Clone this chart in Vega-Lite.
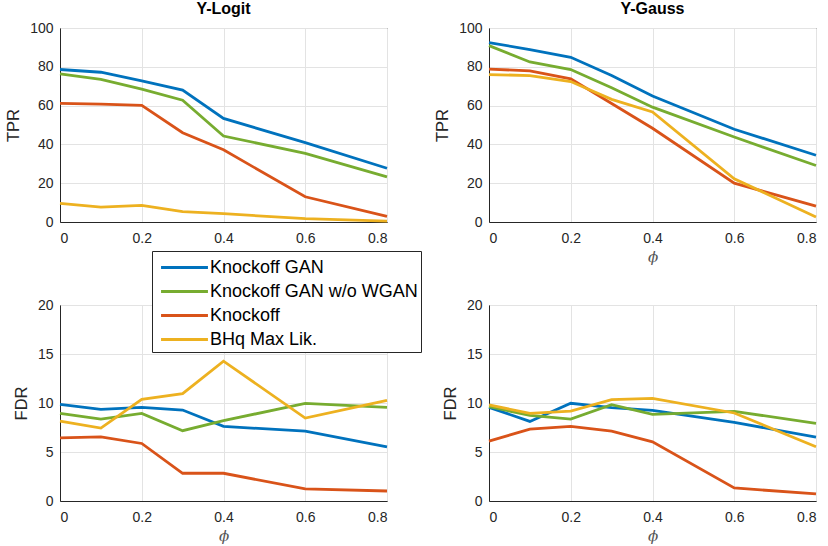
{
  "$schema": "https://vega.github.io/schema/vega-lite/v6.json",
  "background": "white",
  "padding": {"left": 5, "top": 0, "right": 5, "bottom": 0},
  "data": {"values": [
    {"p":"LT","m":"Knockoff GAN","phi":0,"v":78.6},{"p":"LT","m":"Knockoff GAN","phi":0.1,"v":77.2},{"p":"LT","m":"Knockoff GAN","phi":0.2,"v":72.8},{"p":"LT","m":"Knockoff GAN","phi":0.3,"v":68.0},{"p":"LT","m":"Knockoff GAN","phi":0.4,"v":53.4},{"p":"LT","m":"Knockoff GAN","phi":0.6,"v":40.9},{"p":"LT","m":"Knockoff GAN","phi":0.8,"v":27.7},
    {"p":"LT","m":"Knockoff GAN w/o WGAN","phi":0,"v":76.4},{"p":"LT","m":"Knockoff GAN w/o WGAN","phi":0.1,"v":73.5},{"p":"LT","m":"Knockoff GAN w/o WGAN","phi":0.2,"v":68.5},{"p":"LT","m":"Knockoff GAN w/o WGAN","phi":0.3,"v":62.8},{"p":"LT","m":"Knockoff GAN w/o WGAN","phi":0.4,"v":44.3},{"p":"LT","m":"Knockoff GAN w/o WGAN","phi":0.6,"v":35.4},{"p":"LT","m":"Knockoff GAN w/o WGAN","phi":0.8,"v":23.3},
    {"p":"LT","m":"Knockoff","phi":0,"v":61.1},{"p":"LT","m":"Knockoff","phi":0.1,"v":60.8},{"p":"LT","m":"Knockoff","phi":0.2,"v":60.1},{"p":"LT","m":"Knockoff","phi":0.3,"v":46.0},{"p":"LT","m":"Knockoff","phi":0.4,"v":37.2},{"p":"LT","m":"Knockoff","phi":0.6,"v":13.0},{"p":"LT","m":"Knockoff","phi":0.8,"v":2.9},
    {"p":"LT","m":"BHq Max Lik.","phi":0,"v":9.6},{"p":"LT","m":"BHq Max Lik.","phi":0.1,"v":7.7},{"p":"LT","m":"BHq Max Lik.","phi":0.2,"v":8.6},{"p":"LT","m":"BHq Max Lik.","phi":0.3,"v":5.3},{"p":"LT","m":"BHq Max Lik.","phi":0.4,"v":4.3},{"p":"LT","m":"BHq Max Lik.","phi":0.6,"v":1.7},{"p":"LT","m":"BHq Max Lik.","phi":0.8,"v":0.5},

    {"p":"GT","m":"Knockoff GAN","phi":0,"v":92.5},{"p":"GT","m":"Knockoff GAN","phi":0.1,"v":88.9},{"p":"GT","m":"Knockoff GAN","phi":0.2,"v":84.9},{"p":"GT","m":"Knockoff GAN","phi":0.3,"v":75.5},{"p":"GT","m":"Knockoff GAN","phi":0.4,"v":64.9},{"p":"GT","m":"Knockoff GAN","phi":0.6,"v":47.8},{"p":"GT","m":"Knockoff GAN","phi":0.8,"v":34.4},
    {"p":"GT","m":"Knockoff GAN w/o WGAN","phi":0,"v":90.9},{"p":"GT","m":"Knockoff GAN w/o WGAN","phi":0.1,"v":82.5},{"p":"GT","m":"Knockoff GAN w/o WGAN","phi":0.2,"v":78.6},{"p":"GT","m":"Knockoff GAN w/o WGAN","phi":0.3,"v":69.2},{"p":"GT","m":"Knockoff GAN w/o WGAN","phi":0.4,"v":59.2},{"p":"GT","m":"Knockoff GAN w/o WGAN","phi":0.6,"v":43.8},{"p":"GT","m":"Knockoff GAN w/o WGAN","phi":0.8,"v":29.1},
    {"p":"GT","m":"Knockoff","phi":0,"v":78.8},{"p":"GT","m":"Knockoff","phi":0.1,"v":77.9},{"p":"GT","m":"Knockoff","phi":0.2,"v":73.8},{"p":"GT","m":"Knockoff","phi":0.3,"v":61.1},{"p":"GT","m":"Knockoff","phi":0.4,"v":48.3},{"p":"GT","m":"Knockoff","phi":0.6,"v":20.0},{"p":"GT","m":"Knockoff","phi":0.8,"v":8.2},
    {"p":"GT","m":"BHq Max Lik.","phi":0,"v":76.0},{"p":"GT","m":"BHq Max Lik.","phi":0.1,"v":75.5},{"p":"GT","m":"BHq Max Lik.","phi":0.2,"v":72.4},{"p":"GT","m":"BHq Max Lik.","phi":0.3,"v":63.2},{"p":"GT","m":"BHq Max Lik.","phi":0.4,"v":56.7},{"p":"GT","m":"BHq Max Lik.","phi":0.6,"v":22.3},{"p":"GT","m":"BHq Max Lik.","phi":0.8,"v":2.6},

    {"p":"LF","m":"Knockoff GAN","phi":0,"v":9.86},{"p":"LF","m":"Knockoff GAN","phi":0.1,"v":9.35},{"p":"LF","m":"Knockoff GAN","phi":0.2,"v":9.56},{"p":"LF","m":"Knockoff GAN","phi":0.3,"v":9.28},{"p":"LF","m":"Knockoff GAN","phi":0.4,"v":7.61},{"p":"LF","m":"Knockoff GAN","phi":0.6,"v":7.13},{"p":"LF","m":"Knockoff GAN","phi":0.8,"v":5.53},
    {"p":"LF","m":"Knockoff GAN w/o WGAN","phi":0,"v":8.94},{"p":"LF","m":"Knockoff GAN w/o WGAN","phi":0.1,"v":8.36},{"p":"LF","m":"Knockoff GAN w/o WGAN","phi":0.2,"v":8.94},{"p":"LF","m":"Knockoff GAN w/o WGAN","phi":0.3,"v":7.17},{"p":"LF","m":"Knockoff GAN w/o WGAN","phi":0.4,"v":8.19},{"p":"LF","m":"Knockoff GAN w/o WGAN","phi":0.6,"v":9.97},{"p":"LF","m":"Knockoff GAN w/o WGAN","phi":0.8,"v":9.56},
    {"p":"LF","m":"Knockoff","phi":0,"v":6.45},{"p":"LF","m":"Knockoff","phi":0.1,"v":6.55},{"p":"LF","m":"Knockoff","phi":0.2,"v":5.87},{"p":"LF","m":"Knockoff","phi":0.3,"v":2.83},{"p":"LF","m":"Knockoff","phi":0.4,"v":2.83},{"p":"LF","m":"Knockoff","phi":0.6,"v":1.23},{"p":"LF","m":"Knockoff","phi":0.8,"v":1.02},
    {"p":"LF","m":"BHq Max Lik.","phi":0,"v":8.16},{"p":"LF","m":"BHq Max Lik.","phi":0.1,"v":7.44},{"p":"LF","m":"BHq Max Lik.","phi":0.2,"v":10.38},{"p":"LF","m":"BHq Max Lik.","phi":0.3,"v":10.96},{"p":"LF","m":"BHq Max Lik.","phi":0.4,"v":14.27},{"p":"LF","m":"BHq Max Lik.","phi":0.6,"v":8.46},{"p":"LF","m":"BHq Max Lik.","phi":0.8,"v":10.27},

    {"p":"GF","m":"Knockoff GAN","phi":0,"v":9.56},{"p":"GF","m":"Knockoff GAN","phi":0.1,"v":8.12},{"p":"GF","m":"Knockoff GAN","phi":0.2,"v":9.97},{"p":"GF","m":"Knockoff GAN","phi":0.3,"v":9.52},{"p":"GF","m":"Knockoff GAN","phi":0.4,"v":9.25},{"p":"GF","m":"Knockoff GAN","phi":0.6,"v":8.02},{"p":"GF","m":"Knockoff GAN","phi":0.8,"v":6.52},
    {"p":"GF","m":"Knockoff GAN w/o WGAN","phi":0,"v":9.62},{"p":"GF","m":"Knockoff GAN w/o WGAN","phi":0.1,"v":8.74},{"p":"GF","m":"Knockoff GAN w/o WGAN","phi":0.2,"v":8.36},{"p":"GF","m":"Knockoff GAN w/o WGAN","phi":0.3,"v":9.83},{"p":"GF","m":"Knockoff GAN w/o WGAN","phi":0.4,"v":8.84},{"p":"GF","m":"Knockoff GAN w/o WGAN","phi":0.6,"v":9.15},{"p":"GF","m":"Knockoff GAN w/o WGAN","phi":0.8,"v":7.92},
    {"p":"GF","m":"Knockoff","phi":0,"v":6.11},{"p":"GF","m":"Knockoff","phi":0.1,"v":7.34},{"p":"GF","m":"Knockoff","phi":0.2,"v":7.61},{"p":"GF","m":"Knockoff","phi":0.3,"v":7.13},{"p":"GF","m":"Knockoff","phi":0.4,"v":6.04},{"p":"GF","m":"Knockoff","phi":0.6,"v":1.33},{"p":"GF","m":"Knockoff","phi":0.8,"v":0.72},
    {"p":"GF","m":"BHq Max Lik.","phi":0,"v":9.8},{"p":"GF","m":"BHq Max Lik.","phi":0.1,"v":8.94},{"p":"GF","m":"BHq Max Lik.","phi":0.2,"v":9.18},{"p":"GF","m":"BHq Max Lik.","phi":0.3,"v":10.34},{"p":"GF","m":"BHq Max Lik.","phi":0.4,"v":10.48},{"p":"GF","m":"BHq Max Lik.","phi":0.6,"v":8.98},{"p":"GF","m":"BHq Max Lik.","phi":0.8,"v":5.53}
  ]},
  "columns": 2,
  "spacing": {"row": 83, "column": 102},
  "bounds": "flush",
  "concat": [
    {
      "width": 327, "height": 194,
      "title": "Y-Logit",
      "transform": [{"filter": "datum.p == 'LT'"}],
      "mark": {"type": "line", "strokeWidth": 2.8},
      "encoding": {
        "x": {"field": "phi", "type": "quantitative", "scale": {"domain": [0, 0.8], "nice": false}, "axis": {"values": [0, 0.2, 0.4, 0.6, 0.8], "format": "~g", "title": null}},
        "y": {"field": "v", "type": "quantitative", "scale": {"domain": [0, 100], "nice": false}, "axis": {"values": [0, 20, 40, 60, 80, 100], "title": "TPR"}},
        "color": {"field": "m", "type": "nominal", "sort": null, "scale": {"domain": ["Knockoff GAN", "Knockoff GAN w/o WGAN", "Knockoff", "BHq Max Lik."], "range": ["#0072BD", "#77AC30", "#D95319", "#EDB120"]}}
      }
    },
    {
      "width": 327, "height": 194,
      "title": "Y-Gauss",
      "transform": [{"filter": "datum.p == 'GT'"}],
      "mark": {"type": "line", "strokeWidth": 2.8},
      "encoding": {
        "x": {"field": "phi", "type": "quantitative", "scale": {"domain": [0, 0.8], "nice": false}, "axis": {"values": [0, 0.2, 0.4, 0.6, 0.8], "format": "~g", "title": "ϕ"}},
        "y": {"field": "v", "type": "quantitative", "scale": {"domain": [0, 100], "nice": false}, "axis": {"values": [0, 20, 40, 60, 80, 100], "title": "TPR"}},
        "color": {"field": "m", "type": "nominal", "sort": null}
      }
    },
    {
      "width": 327, "height": 196,
      "transform": [{"filter": "datum.p == 'LF'"}],
      "mark": {"type": "line", "strokeWidth": 2.8},
      "encoding": {
        "x": {"field": "phi", "type": "quantitative", "scale": {"domain": [0, 0.8], "nice": false}, "axis": {"values": [0, 0.2, 0.4, 0.6, 0.8], "format": "~g", "title": "ϕ"}},
        "y": {"field": "v", "type": "quantitative", "scale": {"domain": [0, 20], "nice": false}, "axis": {"values": [0, 5, 10, 15, 20], "title": "FDR"}},
        "color": {"field": "m", "type": "nominal", "sort": null}
      }
    },
    {
      "width": 327, "height": 196,
      "transform": [{"filter": "datum.p == 'GF'"}],
      "mark": {"type": "line", "strokeWidth": 2.8},
      "encoding": {
        "x": {"field": "phi", "type": "quantitative", "scale": {"domain": [0, 0.8], "nice": false}, "axis": {"values": [0, 0.2, 0.4, 0.6, 0.8], "format": "~g", "title": "ϕ"}},
        "y": {"field": "v", "type": "quantitative", "scale": {"domain": [0, 20], "nice": false}, "axis": {"values": [0, 5, 10, 15, 20], "title": "FDR"}},
        "color": {"field": "m", "type": "nominal", "sort": null}
      }
    }
  ],
  "config": {
    "font": "Liberation Sans",
    "view": {"stroke": "#262626", "strokeWidth": 1},
    "axis": {
      "labelFont": "Liberation Sans", "labelFontSize": 14, "labelColor": "#262626",
      "titleFont": "Liberation Sans", "titleFontSize": 16.5, "titleFontWeight": "normal", "titleColor": "#262626",
      "gridColor": "#e3e3e3", "gridWidth": 1, "domainColor": "#262626", "ticks": false, "labelPadding": 7, "titlePadding": 8
    },
    "axisX": {"labelPadding": 9, "titlePadding": 4, "titleFontStyle": "italic", "titleColor": "#555555", "titleFont": "DejaVu Serif", "titleFontSize": 15},
    "title": {"font": "Liberation Sans", "fontSize": 16, "fontWeight": "bold", "color": "#000000", "offset": 0},
    "legend": {
      "orient": "none", "legendX": 92, "legendY": 223, "title": null,
      "labelFont": "Liberation Sans", "labelFontSize": 18, "labelColor": "#000000",
      "symbolType": "M-2,0H2", "symbolStrokeWidth": 3, "symbolSize": 550, "symbolOffset": 16,
      "rowPadding": 1, "padding": 3, "labelOffset": 12, "labelLimit": 400,
      "strokeColor": "#262626", "fillColor": "white", "cornerRadius": 0
    }
  }
}
